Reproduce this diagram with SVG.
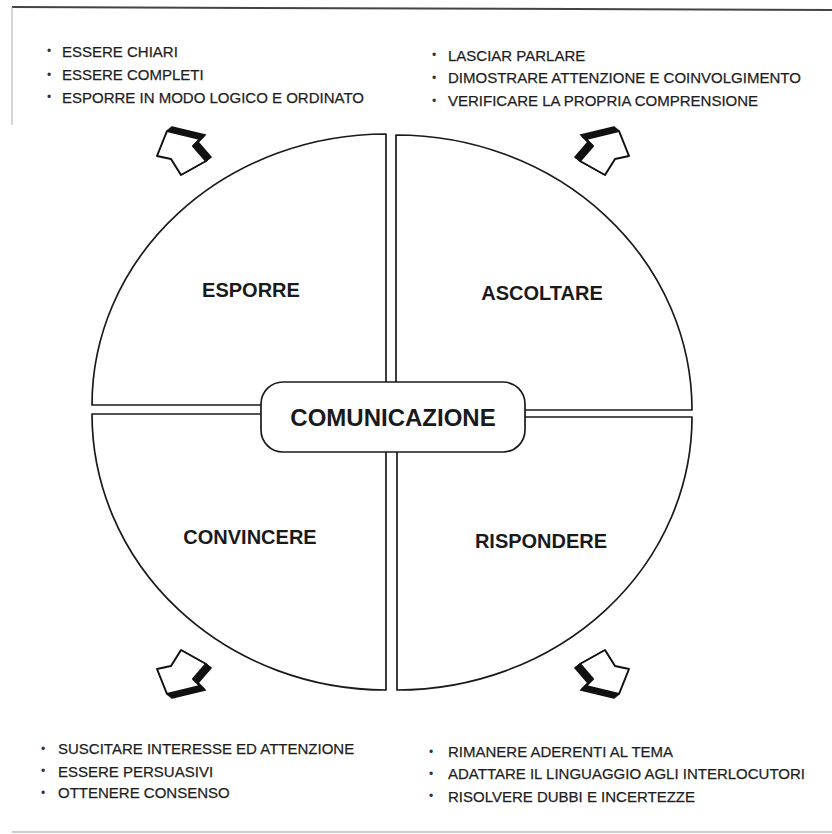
<svg xmlns="http://www.w3.org/2000/svg" xmlns:xlink="http://www.w3.org/1999/xlink" width="832" height="834" viewBox="0 0 832 834">
<style>
.q{fill:none;stroke:#1a1a1a;stroke-width:1.7;stroke-linejoin:round}
.box{fill:#fff;stroke:#1a1a1a;stroke-width:1.7}
.item{font-family:"Liberation Sans",Arial,Helvetica,sans-serif;font-size:15px;fill:#1e1e1e;stroke:#1e1e1e;stroke-width:0.25}
.dot{font-family:"Liberation Sans",Arial,sans-serif;font-size:12px;fill:#333}
.label{font-family:"Liberation Sans",Arial,Helvetica,sans-serif;font-size:20px;font-weight:bold;fill:#1a1a1a;text-anchor:middle}
.title{font-family:"Liberation Sans",Arial,Helvetica,sans-serif;font-size:24px;font-weight:bold;fill:#1a1a1a;text-anchor:middle}
.sh{fill:#111;stroke:#111;stroke-width:1.5}
.face{fill:#fff;stroke:#111;stroke-width:2;stroke-linejoin:round}
</style>
<defs>
<polygon id="af" points="167,131 200,139 193,146 206,161 181,175 171,159 157,156"/>
<g id="arrow">
<use xlink:href="#af" class="sh" transform="translate(1,-0.8)"/>
<use xlink:href="#af" class="sh" transform="translate(2,-1.6)"/>
<use xlink:href="#af" class="sh" transform="translate(3,-2.4)"/>
<use xlink:href="#af" class="sh" transform="translate(4,-3.2)"/>
<use xlink:href="#af" class="sh" transform="translate(5,-4)"/>
<use xlink:href="#af" class="face"/>
</g>
</defs>
<rect width="832" height="834" fill="#fff"/>
<g id="frame">
<line x1="12" y1="7" x2="832" y2="10" stroke="#444" stroke-width="2"/>
<line x1="12" y1="7" x2="12" y2="125" stroke="#aaa" stroke-width="1"/>
<line x1="12" y1="832" x2="832" y2="832" stroke="#bbb" stroke-width="1.5"/>
</g>
<g id="connectors">
<use xlink:href="#arrow"/>
<use xlink:href="#arrow" transform="translate(786,0) scale(-1,1)"/>
<use xlink:href="#arrow" transform="translate(0,825) scale(1,-1)"/>
<use xlink:href="#arrow" transform="translate(786,825) scale(-1,-1)"/>
</g>
<g id="esporre">
<path class="q" d="M386,382 L386,134 A294,271 0 0 0 92,405 L262,405"/>
<text class="label" x="251" y="297">ESPORRE</text>
</g>
<g id="ascoltare">
<path class="q" d="M396,382 L396,135 A296,275 0 0 1 692,410 L525,410"/>
<text class="label" x="542" y="300">ASCOLTARE</text>
</g>
<g id="convincere">
<path class="q" d="M262,414 L92,414 A294,276 0 0 0 386,690 L386,452"/>
<text class="label" x="250" y="544">CONVINCERE</text>
</g>
<g id="rispondere">
<path class="q" d="M525,417 L692,417 A295,273 0 0 1 397,690 L397,452"/>
<text class="label" x="541" y="548">RISPONDERE</text>
</g>
<g id="comunicazione">
<rect class="box" x="261" y="382" width="264" height="70" rx="22"/>
<text class="title" x="393" y="426">COMUNICAZIONE</text>
</g>
<g id="notes-esporre">
<text class="dot" x="47" y="55">•</text><text class="item" x="62" y="56.5">ESSERE CHIARI</text>
<text class="dot" x="47" y="78.5">•</text><text class="item" x="62" y="80">ESSERE COMPLETI</text>
<text class="dot" x="47" y="101">•</text><text class="item" x="62" y="102.5">ESPORRE IN MODO LOGICO E ORDINATO</text>
</g>
<g id="notes-ascoltare">
<text class="dot" x="432" y="59">•</text><text class="item" x="448" y="60.5">LASCIAR PARLARE</text>
<text class="dot" x="432" y="81.5">•</text><text class="item" x="448" y="83">DIMOSTRARE ATTENZIONE E COINVOLGIMENTO</text>
<text class="dot" x="432" y="104.5">•</text><text class="item" x="448" y="106">VERIFICARE LA PROPRIA COMPRENSIONE</text>
</g>
<g id="notes-convincere">
<text class="dot" x="41" y="752.5">•</text><text class="item" x="58" y="754">SUSCITARE INTERESSE ED ATTENZIONE</text>
<text class="dot" x="41" y="775">•</text><text class="item" x="58" y="776.5">ESSERE PERSUASIVI</text>
<text class="dot" x="41" y="796.5">•</text><text class="item" x="58" y="798">OTTENERE CONSENSO</text>
</g>
<g id="notes-rispondere">
<text class="dot" x="429" y="755.5">•</text><text class="item" x="448" y="757">RIMANERE ADERENTI AL TEMA</text>
<text class="dot" x="429" y="777.5">•</text><text class="item" x="448" y="779">ADATTARE IL LINGUAGGIO AGLI INTERLOCUTORI</text>
<text class="dot" x="429" y="800">•</text><text class="item" x="448" y="801.5">RISOLVERE DUBBI E INCERTEZZE</text>
</g>
</svg>
